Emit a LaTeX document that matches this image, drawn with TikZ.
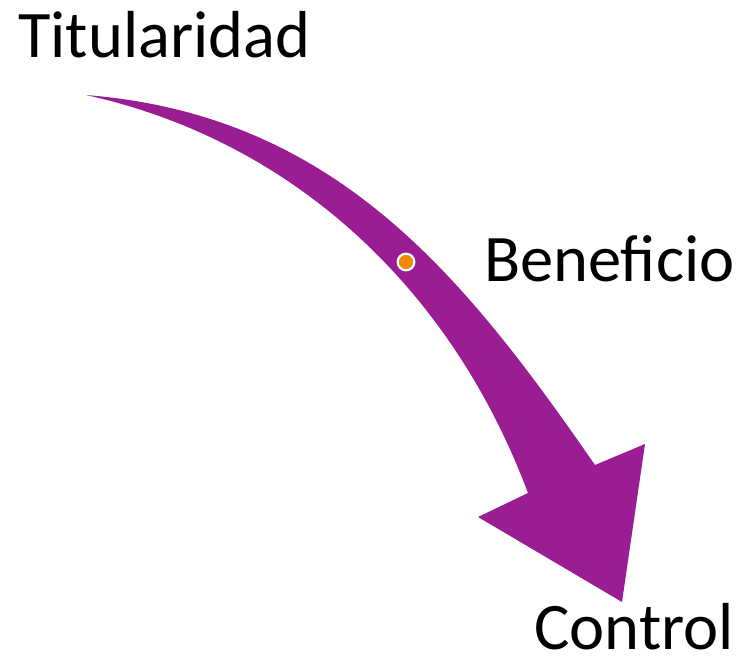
\documentclass[tikz,border=0pt]{standalone}
\usepackage{fontspec}
\setmainfont{Carlito}
\usepackage{xcolor}
\definecolor{arrowpurple}{RGB}{155,29,148}
\definecolor{dotorange}{RGB}{235,140,0}

\begin{document}
\begin{tikzpicture}[x=1pt,y=-1pt,
  label/.style={anchor=base west,inner sep=0pt,font=\fontsize{66.5}{78}\selectfont}]
\useasboundingbox (0,0) rectangle (740,661);
\fill[arrowpurple] (86,95) .. controls (336,115) and (464,276) .. (595,465)
  -- (645,444) -- (622,602) -- (478,517) -- (528,493)
  .. controls (450,285) and (290,140) .. (86,95) -- cycle;
\filldraw[draw=white,line width=2.2pt,fill=dotorange] (406,262) circle (8.3pt);
\node[label] (titularidad) at (18,58) {Titularidad};
\node[label] (beneficio) at (484,281) {Beneficio};
\node[label] (control) at (534,649) {Control};
\end{tikzpicture}
\end{document}
